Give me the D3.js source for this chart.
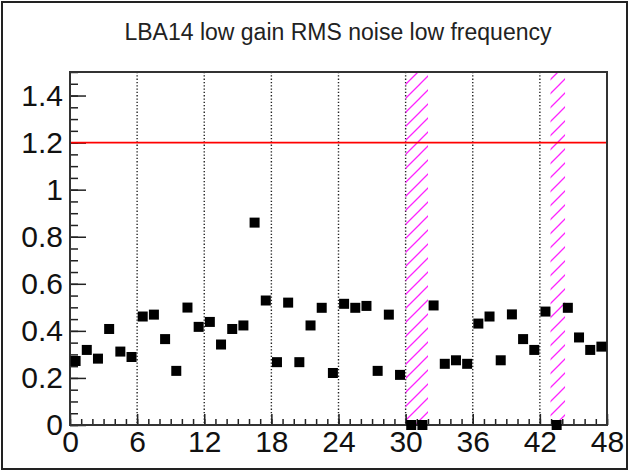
<!DOCTYPE html>
<html>
<head>
<meta charset="utf-8">
<script src="https://cdn.jsdelivr.net/npm/d3@7"></script>
<style>
  body { margin: 0; background: #fff; }
  text { font-family: "Liberation Sans", Arial, sans-serif; }
</style>
</head>
<body>
<div id="chart-container"></div>
<script>
const title = "LBA14 low gain RMS noise low frequency";

// one value per bin (bin i is centred on i + 0.5)
const rmsValues = [
  0.272, 0.319, 0.282, 0.408, 0.312, 0.289, 0.461, 0.469, 0.365, 0.230,
  0.499, 0.417, 0.438, 0.342, 0.408, 0.423, 0.860, 0.529, 0.267, 0.520,
  0.267, 0.423, 0.498, 0.221, 0.515, 0.498, 0.506, 0.230, 0.469, 0.213,
  0.000, 0.000, 0.508, 0.260, 0.275, 0.260, 0.431, 0.461, 0.275, 0.470,
  0.365, 0.319, 0.482, 0.000, 0.498, 0.372, 0.319, 0.333
];
const badRanges = [[30, 32], [42.95, 44.25]];
const limitValue = 1.2;

const xTicks = [0, 6, 12, 18, 24, 30, 36, 42, 48];
const xGrid = [6, 12, 18, 24, 30, 36, 42];
const yTicks = [0, 0.2, 0.4, 0.6, 0.8, 1, 1.2, 1.4];

const width = 629, height = 471;
const margin = { top: 72, right: 22, bottom: 46, left: 70 };

const svg = d3.select("#chart-container").append("svg")
    .attr("width", width)
    .attr("height", height);

const x = d3.scaleLinear().domain([0, 48]).range([margin.left, width - margin.right]);
const y = d3.scaleLinear().domain([0, 1.5]).range([height - margin.bottom, margin.top]);

// hatch for the flagged bins
const defs = svg.append("defs");
defs.append("pattern")
    .attr("id", "hatch")
    .attr("patternUnits", "userSpaceOnUse")
    .attr("width", 14)
    .attr("height", 14)
  .append("path")
    .attr("d", "M0,14 L14,0 M-3.5,3.5 L3.5,-3.5 M10.5,17.5 L17.5,10.5")
    .attr("stroke", "#ff22ff")
    .attr("stroke-width", 1.3);

// outer canvas border
svg.append("rect")
    .attr("x", 2).attr("y", 2)
    .attr("width", width - 4).attr("height", height - 4)
    .attr("fill", "none")
    .attr("stroke", "#222")
    .attr("stroke-width", 2);

svg.append("text")
    .attr("x", 338)
    .attr("y", 40)
    .attr("text-anchor", "middle")
    .attr("font-size", 23)
    .attr("fill", "#222")
    .text(title);

// vertical dotted grid
svg.append("g").selectAll("line")
    .data(xGrid)
    .enter().append("line")
    .attr("x1", d => x(d)).attr("x2", d => x(d))
    .attr("y1", y(1.5)).attr("y2", y(0))
    .attr("stroke", "#222")
    .attr("stroke-width", 1.4)
    .attr("stroke-dasharray", "1.3,2");

svg.append("g").selectAll("rect")
    .data(badRanges)
    .enter().append("rect")
    .attr("x", d => x(d[0]))
    .attr("width", d => x(d[1]) - x(d[0]))
    .attr("y", y(1.5))
    .attr("height", y(0) - y(1.5))
    .attr("fill", "url(#hatch)");

// axes, ticks pointing into the frame
svg.append("g")
    .attr("transform", "translate(0," + y(0) + ")")
    .call(d3.axisBottom(x).tickValues(d3.range(0, 49)).tickSize(-6).tickFormat(""))
    .call(g => g.select(".domain").remove());
svg.append("g")
    .attr("transform", "translate(0," + y(0) + ")")
    .call(d3.axisBottom(x).tickValues(xTicks).tickSize(-11).tickPadding(6).tickFormat(d3.format("d")))
    .call(g => g.select(".domain").remove());

svg.append("g")
    .attr("transform", "translate(" + x(0) + ",0)")
    .call(d3.axisLeft(y).tickValues(d3.range(0, 31).map(d => d * 0.05)).tickSize(-8).tickFormat(""))
    .call(g => g.select(".domain").remove());
svg.append("g")
    .attr("transform", "translate(" + x(0) + ",0)")
    .call(d3.axisLeft(y).tickValues(yTicks).tickSize(-16).tickPadding(7).tickFormat(d => d3.format("")(+d.toFixed(1))))
    .call(g => g.select(".domain").remove());

svg.selectAll(".tick line").attr("stroke", "#222").attr("stroke-width", 1.5);
svg.selectAll(".tick text").attr("font-size", 30).attr("fill", "#111")
    .style("font-family", "'Liberation Sans', Arial, sans-serif");

svg.append("line")
    .attr("x1", x(0)).attr("x2", x(48))
    .attr("y1", y(limitValue)).attr("y2", y(limitValue))
    .attr("stroke", "#ff0000")
    .attr("stroke-width", 1.6);

// plot frame
svg.append("rect")
    .attr("x", x(0)).attr("y", y(1.5))
    .attr("width", x(48) - x(0)).attr("height", y(0) - y(1.5))
    .attr("fill", "none")
    .attr("stroke", "#333")
    .attr("stroke-width", 2);

const ms = 10;
svg.append("g").selectAll("rect")
    .data(rmsValues)
    .enter().append("rect")
    .attr("x", (d, i) => x(i + 0.5) - ms / 2)
    .attr("y", d => y(d) - ms / 2)
    .attr("width", ms)
    .attr("height", ms)
    .attr("fill", "#000");
</script>
</body>
</html>
